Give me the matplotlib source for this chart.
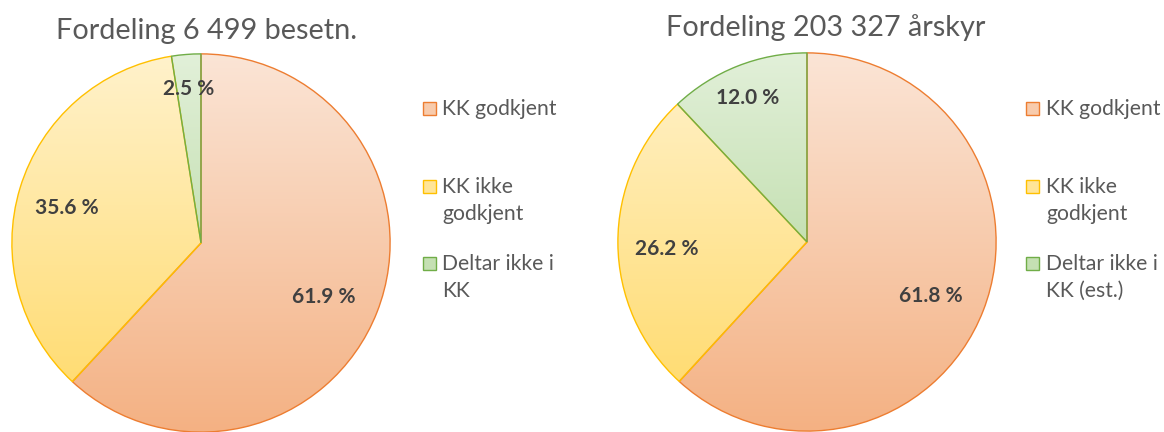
import numpy as np
import matplotlib.pyplot as plt
import matplotlib.colors as mcolors
from matplotlib.patches import Rectangle

categories_left = ['KK godkjent', 'KK ikke\ngodkjent', 'Deltar ikke i\nKK']
categories_right = ['KK godkjent', 'KK ikke\ngodkjent', 'Deltar ikke i\nKK (est.)']
values_left = [61.9, 35.6, 2.5]
values_right = [61.8, 26.2, 12.0]
title_left = 'Fordeling 6 499 besetn.'
title_right = 'Fordeling 203 327 årskyr'

# gradient top/bottom colours and edge colours (Excel style)
grad_top = ['#FBE5D6', '#FFF2CC', '#E2F0D9']
grad_bot = ['#F4B183', '#FFD966', '#A9D18E']
edges = ['#ED7D31', '#FFC000', '#70AD47']
label_dist = [0.70, 0.74, 0.85]

plt.rcParams['font.family'] = ['Lato', 'DejaVu Sans']

W, H = 1164, 432
fig = plt.figure(figsize=(W / 100, H / 100), dpi=100)


def px_text(x, y, s, **kw):
    fig.text(x / W, 1 - y / H, s, **kw)


def draw_pie(rect, values):
    ax = fig.add_axes(rect)
    wedges, _ = ax.pie(values, startangle=90, counterclock=False,
                       colors=['none'] * 3, radius=1,
                       wedgeprops=dict(linewidth=1.0))
    for i, w in enumerate(wedges):
        cmap = mcolors.LinearSegmentedColormap.from_list('g', [grad_bot[i], grad_top[i]])
        grad = np.linspace(0, 1, 256).reshape(-1, 1)
        im = ax.imshow(grad, cmap=cmap, extent=[-1, 1, -1, 1], origin='lower',
                       aspect='auto', zorder=1)
        im.set_clip_path(w)
        w.set_edgecolor(edges[i])
        w.set_zorder(2)
        ang = np.deg2rad((w.theta1 + w.theta2) / 2)
        d = label_dist[i]
        ax.text(d * np.cos(ang), d * np.sin(ang) - 0.02, f'{values[i]:.1f} %',
                ha='center', va='center_baseline', fontsize=15, fontweight='bold',
                color='#404040', zorder=3)
    ax.set_xlim(-1.01, 1.01)
    ax.set_ylim(-1.01, 1.01)
    ax.set_aspect('equal')
    ax.axis('off')


r = 191
draw_pie([(201 - r) / W, (189 - r) / H, 2 * r / W, 2 * r / H], values_left)
draw_pie([(807 - r) / W, (190 - r) / H, 2 * r / W, 2 * r / H], values_right)

px_text(207, 31, title_left, ha='center', va='center', fontsize=20.8, color='#595959')
px_text(826, 28, title_right, ha='center', va='center', fontsize=20.8, color='#595959')


def draw_legend(x_box, x_text, labels):
    baselines = [115, 193, 270]
    for i, lab in enumerate(labels):
        b = baselines[i]
        fig.patches.append(Rectangle((x_box / W, 1 - b / H), 13 / W, 13 / H,
                                     transform=fig.transFigure,
                                     facecolor=mcolors.to_hex(
                                         np.mean([mcolors.to_rgb(grad_top[i]),
                                                  mcolors.to_rgb(grad_bot[i])], axis=0)),
                                     edgecolor=edges[i], linewidth=1.0))
        for j, line in enumerate(lab.split('\n')):
            px_text(x_text, b + j * 27, line, ha='left', va='baseline',
                    fontsize=15.2, color='#595959')


draw_legend(423, 442, categories_left)
draw_legend(1026, 1046, categories_right)

fig.savefig('out.png', dpi=100)
